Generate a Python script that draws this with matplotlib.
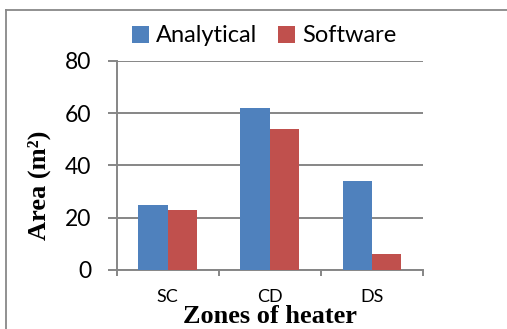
import matplotlib
matplotlib.use("Agg")
import matplotlib.pyplot as plt
from matplotlib.lines import Line2D
from matplotlib.patches import Patch
import numpy as np

categories = ["SC", "CD", "DS"]
analytical = [25, 62, 34]
software = [23, 54, 6]
y_ticks = [0, 20, 40, 60, 80]
series_names = ["Analytical", "Software"]
colors = ["#4F81BD", "#C0504D"]
grid_color = "#868686"

W, H = 507, 329
fig = plt.figure(figsize=(W / 100, H / 100), dpi=100)

# axes placement (pixels)
ax_l, ax_r, ax_t, ax_b = 116.7, 423.0, 60.7, 270.0
ax = fig.add_axes([ax_l / W, 1 - ax_b / H, (ax_r - ax_l) / W, (ax_b - ax_t) / H])

x = np.arange(len(categories))
bw = 0.2875
ax.bar(x - bw / 2, analytical, width=bw, color=colors[0], zorder=3)
ax.bar(x + bw / 2, software, width=bw, color=colors[1], zorder=3)

ax.set_xlim(-0.5, len(categories) - 0.5)
ax.set_ylim(0, 80)
ax.set_yticks(y_ticks)
ax.yaxis.grid(True, color=grid_color, linewidth=1.4, zorder=0)
ax.set_axisbelow(True)

for s in ["top", "right"]:
    ax.spines[s].set_visible(False)
for s in ["left", "bottom"]:
    ax.spines[s].set_color(grid_color)
    ax.spines[s].set_linewidth(1.4)

# x ticks at category boundaries, labels at centers
ax.set_xticks(np.arange(-0.5, len(categories), 1.0))
ax.set_xticklabels([])
ax.set_xticks(x, minor=True)
ax.set_xticklabels(categories, minor=True, fontsize=13, family="Lato")
ax.tick_params(axis="x", which="major", length=4.5, width=1.4, color=grid_color, direction="out")
ax.tick_params(axis="x", which="minor", length=0, pad=13.5)
ax.tick_params(axis="y", length=6.3, width=1.4, color=grid_color, direction="out", pad=12,
               labelsize=16.5)
for lab in ax.get_yticklabels():
    lab.set_family("Lato")

# axis titles
fig.text(39 / W, 1 - 185.5 / H, "Area (m²)", rotation=90, ha="center", va="center",
         family="Liberation Serif", fontweight="bold", fontsize=19)
fig.text(270 / W, 1 - 323 / H, "Zones of heater", ha="center", va="baseline",
         family="Liberation Serif", fontweight="bold", fontsize=19)

# legend
handles = [Patch(facecolor=c, edgecolor="none") for c in colors]
fig.legend(handles, series_names, loc="center", bbox_to_anchor=(264 / W, 1 - 36 / H),
           bbox_transform=fig.transFigure, ncol=2, frameon=False,
           prop={"family": "Lato", "size": 17}, handlelength=0.7, handleheight=0.7,
           handletextpad=0.3, columnspacing=0.9)

# outer frame (chart border)
fig.add_artist(Line2D([6 / W, 6 / W], [0, 1 - 10 / H], transform=fig.transFigure,
                      color="#888888", linewidth=1.3))
fig.add_artist(Line2D([6 / W, 1], [1 - 10 / H, 1 - 10 / H], transform=fig.transFigure,
                      color="#888888", linewidth=1.3))

fig.savefig("out.png", dpi=100)
